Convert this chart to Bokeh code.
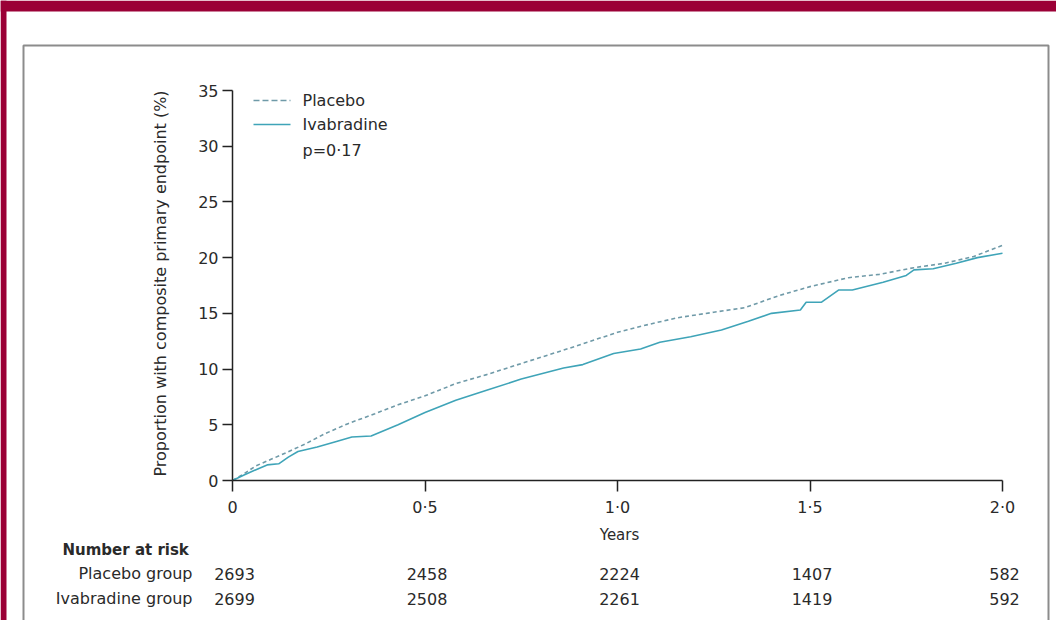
import math
from bokeh.plotting import figure
from bokeh.models import Range1d, LinearAxis, FixedTicker, Label, ColumnDataSource
from bokeh.core.properties import value
from bokeh.embed import file_html
from bokeh.resources import INLINE

# ---------------- data ----------------
placebo_years = [0, 0.03, 0.06, 0.10, 0.14, 0.19, 0.24, 0.30, 0.37, 0.43, 0.50, 0.58, 0.66,
                 0.75, 0.86, 0.93, 1.00, 1.08, 1.155, 1.25, 1.33, 1.42, 1.50, 1.60, 1.68,
                 1.77, 1.85, 1.925, 2.00]
placebo_pct = [0, 0.6, 1.3, 1.9, 2.5, 3.3, 4.2, 5.1, 6.0, 6.8, 7.6, 8.7, 9.5,
               10.5, 11.7, 12.5, 13.3, 14.0, 14.6, 15.1, 15.5, 16.6, 17.4, 18.2, 18.5,
               19.1, 19.5, 20.1, 21.1]

ivabradine_years = [0, 0.03, 0.07, 0.09, 0.12, 0.145, 0.17, 0.22, 0.27, 0.31, 0.36, 0.43,
                    0.50, 0.58, 0.66, 0.75, 0.86, 0.91, 0.99, 1.06, 1.11, 1.19, 1.27, 1.34,
                    1.40, 1.475, 1.49, 1.53, 1.575, 1.61, 1.69, 1.75, 1.77, 1.82, 1.88,
                    1.935, 2.00]
ivabradine_pct = [0, 0.5, 1.1, 1.4, 1.5, 2.1, 2.6, 3.0, 3.5, 3.9, 4.0, 5.0,
                  6.1, 7.2, 8.1, 9.1, 10.1, 10.4, 11.4, 11.8, 12.4, 12.9, 13.5, 14.3,
                  15.0, 15.3, 16.0, 16.0, 17.1, 17.1, 17.8, 18.4, 18.9, 19.0, 19.5,
                  20.0, 20.4]

x_ticks = [0, 0.5, 1.0, 1.5, 2.0]
x_tick_labels = ["0", "0\u00b75", "1\u00b70", "1\u00b75", "2\u00b70"]
y_ticks = [0, 5, 10, 15, 20, 25, 30, 35]

risk_years = [0, 0.5, 1.0, 1.5, 2.0]
placebo_at_risk = [2693, 2458, 2224, 1407, 582]
ivabradine_at_risk = [2699, 2508, 2261, 1419, 592]

legend_labels = ["Placebo", "Ivabradine"]
p_value_text = "p=0\u00b717"

# ---------------- geometry ----------------
W, H = 1056, 620
X0, SX = 232.0, 385.0            # canvas px of year 0, px per year
Y0, SY = 480.0, 390.0 / 35.0     # canvas px (from top) of 0 %, px per %


def dx(px):  # canvas pixel -> data x
    return (px - X0) / SX


def dy(py):  # canvas pixel (from top) -> data y
    return (Y0 - py) / SY


FONT = "DejaVu Sans"
TXT = "#2a2a2a"
LINE = "#3fa4b8"
LINE_D = "#6f9aa8"
MAROON = "#9b0036"

p = figure(width=W, height=H, output_backend="svg", toolbar_location=None,
           x_range=Range1d(dx(0), dx(W)), y_range=Range1d(dy(H), dy(0)),
           x_axis_type=None, y_axis_type=None)
p.min_border_left = p.min_border_right = p.min_border_top = p.min_border_bottom = 0
p.outline_line_color = None
p.background_fill_color = "white"
p.border_fill_color = "white"

# decorations: maroon frame and panel border
p.quad(left=[dx(0), dx(0)], right=[dx(W), dx(6)], top=[dy(0), dy(0)], bottom=[dy(11), dy(H)],
       fill_color=MAROON, line_color=None)
p.line([dx(23), dx(23), dx(1048), dx(1048)], [dy(H + 30), dy(45), dy(45), dy(H + 30)],
       line_color="#8c8c8c", line_width=2)

# axes
xaxis = LinearAxis(fixed_location=0, bounds=(0, 2), ticker=FixedTicker(ticks=x_ticks),
                   major_label_overrides=dict(zip(x_ticks, x_tick_labels)))
yaxis = LinearAxis(fixed_location=0, bounds=(0, 35), ticker=FixedTicker(ticks=y_ticks))
for ax in (xaxis, yaxis):
    ax.axis_line_color = "#222222"
    ax.axis_line_width = 1.5
    ax.major_tick_line_color = "#222222"
    ax.major_tick_line_width = 1.5
    ax.major_tick_in = 0
    ax.minor_tick_in = 0
    ax.minor_tick_out = 0
    ax.major_label_text_font = FONT
    ax.major_label_text_font_size = "16px"
    ax.major_label_text_color = TXT
xaxis.major_tick_out = 11
xaxis.major_label_standoff = 6
yaxis.major_tick_out = 10
yaxis.major_label_standoff = 4
p.add_layout(xaxis, "below")
p.add_layout(yaxis, "left")

# curves
p.line(placebo_years, placebo_pct, line_color=LINE_D, line_width=1.6, line_dash="4 3")
p.line(ivabradine_years, ivabradine_pct, line_color=LINE, line_width=1.6)

# legend (manual)
p.line([dx(253), dx(290)], [dy(100), dy(100)], line_color=LINE_D, line_width=1.6, line_dash="6 3")
p.line([dx(253), dx(290)], [dy(124), dy(124)], line_color=LINE, line_width=1.6)
for txt, yy in zip(legend_labels + [p_value_text], [100, 124, 150]):
    p.add_layout(Label(x=dx(302), y=dy(yy), text=txt, text_font=FONT, text_font_size="16px",
                       text_color=TXT, text_baseline="middle", text_align="left"))

# axis titles
p.add_layout(Label(x=dx(160), y=dy(283), text="Proportion with composite primary endpoint (%)",
                   angle=math.pi / 2, text_font=FONT, text_font_size="16px", text_color=TXT,
                   text_align="center", text_baseline="middle"))
p.add_layout(Label(x=dx(619), y=dy(534), text="Years", text_font=FONT, text_font_size="15px",
                   text_color=TXT, text_align="center", text_baseline="middle"))

# number at risk
p.add_layout(Label(x=dx(62), y=dy(549), text="Number at risk", text_font=FONT,
                   text_font_size="15px", text_font_style="bold", text_color=TXT,
                   text_align="left", text_baseline="middle"))
for txt, yy in zip(["Placebo group", "Ivabradine group"], [573, 598]):
    p.add_layout(Label(x=dx(192), y=dy(yy), text=txt, text_font=FONT, text_font_size="16px",
                       text_color=TXT, text_align="right", text_baseline="middle"))

src = ColumnDataSource(dict(
    x=risk_years + risk_years,
    y=[dy(573)] * len(risk_years) + [dy(598)] * len(risk_years),
    n=[str(v) for v in placebo_at_risk] + [str(v) for v in ivabradine_at_risk],
))
p.text(x="x", y="y", text="n", source=src, text_font=value(FONT), text_font_size="16px",
       text_color=TXT, text_align="center", text_baseline="middle", x_offset=2)

open("out.html", "w").write(file_html(p, INLINE))
